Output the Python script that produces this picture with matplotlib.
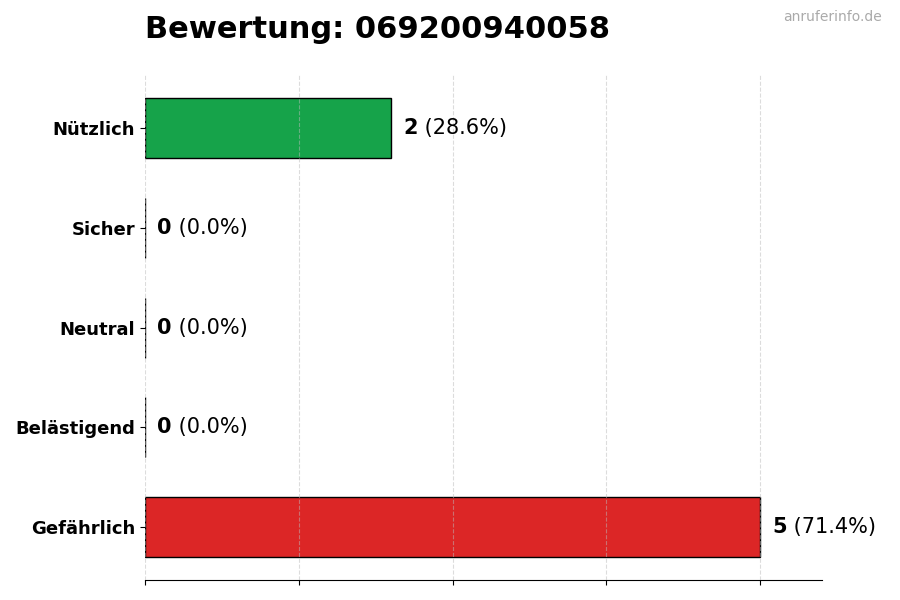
import matplotlib
matplotlib.use("Agg")
import matplotlib.pyplot as plt
import numpy as np

categories = ["Gefährlich", "Belästigend", "Neutral", "Sicher", "Nützlich"]
counts = [5, 0, 0, 0, 2]
colors = ["#dc2626", "#dc2626", "#9ca3af", "#16a34a", "#16a34a"]
title = "Bewertung: 069200940058"

total = sum(counts)

fig = plt.figure(figsize=(9, 6), dpi=100)
ax = fig.add_axes([0.161, 0.033, 0.752, 0.842])

y = np.arange(len(categories))
ax.barh(y, counts, height=0.6, color=colors, edgecolor="black", linewidth=1, zorder=2)
ax.set_yticks(y)
ax.set_yticklabels(categories, fontsize=13, fontweight="bold")
ax.set_xlim(0, 5.5)
ax.set_xticks(np.linspace(0, 5, 5))
ax.set_xticklabels([])
ax.grid(axis="x", linestyle="--", color="#bbbbbb", linewidth=0.8, alpha=0.5, zorder=3)
ax.set_axisbelow(False)
for s in ["top", "right", "left"]:
    ax.spines[s].set_visible(False)

for yi, c in zip(y, counts):
    pct = c / total * 100
    t = ax.annotate(str(c), (c, yi), xytext=(9, 0), textcoords="offset points",
                    va="center", ha="left", fontsize=15, fontweight="bold")
    ax.annotate(" (%.1f%%)" % pct, xy=(1, 0.5), xycoords=t, va="center", ha="left",
                fontsize=15)

fig.text(0.161, 0.95, title, fontsize=22, fontweight="bold", ha="left", va="center")
fig.text(0.98, 0.972, "anruferinfo.de", fontsize=10, color="#aaaaaa", ha="right", va="center")

fig.savefig("out.png")
